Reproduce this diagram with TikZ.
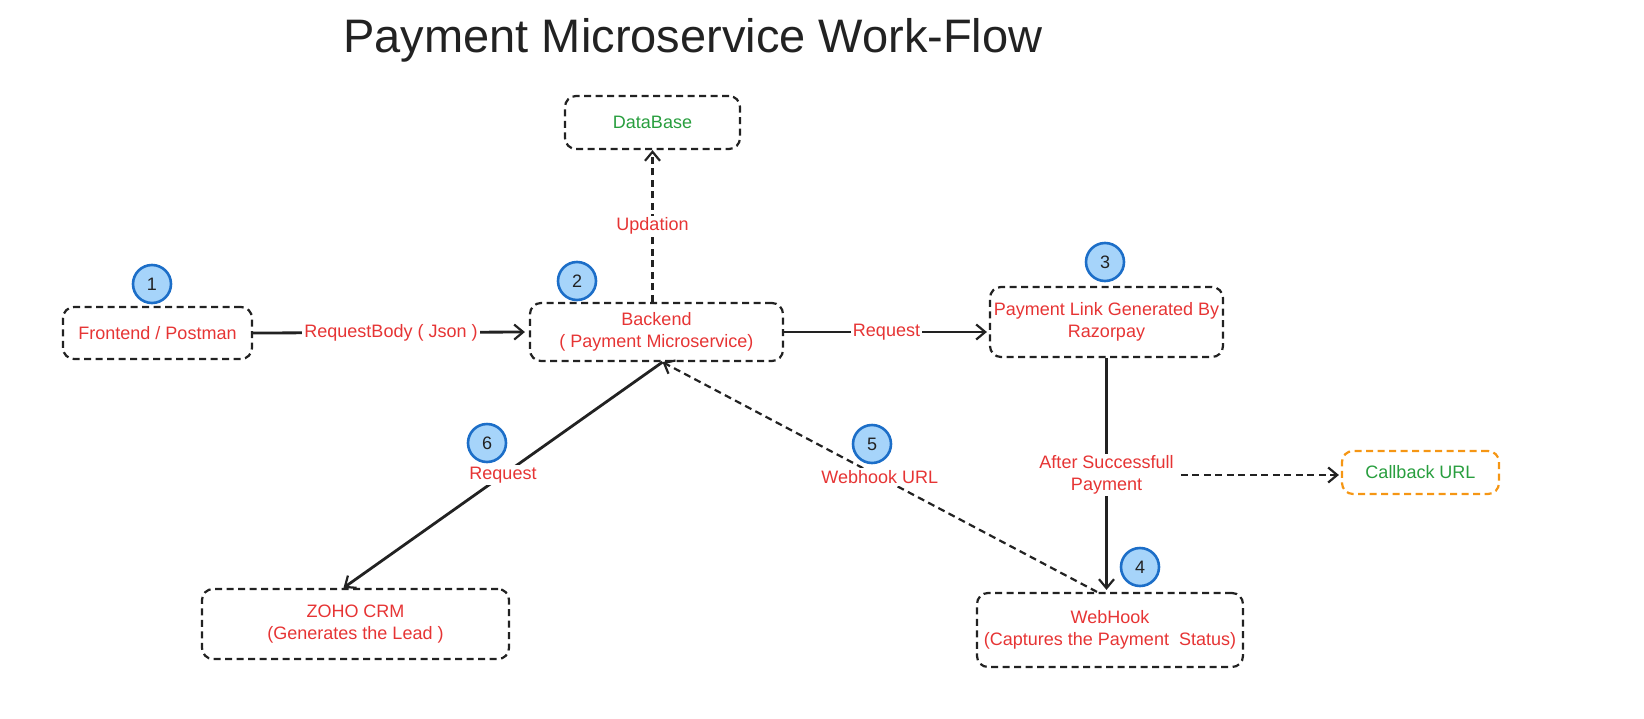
\documentclass[tikz,border=0pt]{standalone}
\usepackage{fontspec}
\setmainfont{Liberation Sans}
\usetikzlibrary{arrows.meta,calc}
\definecolor{txtred}{RGB}{230,52,52}
\definecolor{txtgreen}{RGB}{40,158,62}
\definecolor{boxorange}{RGB}{245,150,20}
\definecolor{circfill}{RGB}{166,212,250}
\definecolor{circline}{RGB}{28,110,200}
\definecolor{ink}{RGB}{34,34,34}
\tikzset{
  box/.style={draw=ink, line width=2.2pt, dash pattern=on 7pt off 4.5pt, rounded corners=11pt,
     align=center, text=txtred, font=\fontsize{18}{21.5}\selectfont, inner sep=0pt},
  numc/.style={circle, draw=circline, fill=circfill, line width=2.6pt, minimum size=38pt,
     inner sep=0pt, text=ink, font=\fontsize{18}{20}\selectfont},
  lbl/.style={fill=white, text=txtred, font=\fontsize{18}{21.5}\selectfont, align=center, inner sep=2pt},
  solidarr/.style={draw=ink, line width=2.8pt, -{Straight Barb[length=9pt,width=15pt,line width=2.2pt]}},
  dasharr/.style={draw=ink, line width=2.2pt, dash pattern=on 7pt off 4.5pt, -{Straight Barb[length=9pt,width=15pt,line width=2.2pt]}},
}
\begin{document}
\begin{tikzpicture}[x=1pt,y=-1pt]
\useasboundingbox (0,0) rectangle (1644,718);
\node[text=ink, font=\fontsize{47}{52}\selectfont] (title) at (693,40) {Payment Microservice Work-Flow};

\node[box, text=txtgreen, minimum width=175pt, minimum height=53pt] (db) at (652.5,122.5) {DataBase};
\node[box, minimum width=189pt, minimum height=52pt] (fe) at (157.5,333) {Frontend / Postman};
\node[box, minimum width=253pt, minimum height=58pt] (be) at (656.5,332) {Backend\\( Payment Microservice)};
\node[box, minimum width=233pt, minimum height=70pt] (pl) at (1106.5,322) {Payment Link Generated By\\Razorpay};
\node[box, draw=boxorange, text=txtgreen, minimum width=157pt, minimum height=43pt] (cb) at (1420.5,472.5) {Callback URL};
\node[box, minimum width=266pt, minimum height=74pt] (wh) at (1110,630) {WebHook\\(Captures the Payment\ \ Status)};
\node[box, minimum width=307pt, minimum height=70pt] (zo) at (355.5,624) {ZOHO CRM\\(Generates the Lead )};

\node[numc] (n1) at (152,284) {1};
\node[numc] (n2) at (577,281) {2};
\node[numc] (n3) at (1105,262) {3};
\node[numc] (n4) at (1140,567) {4};
\node[numc] (n5) at (872,444) {5};
\node[numc] (n6) at (487,443) {6};

\draw[solidarr, shorten >=4pt] (fe.east) -- (be.west) node[lbl, midway] {RequestBody ( Json )};
\draw[dasharr] (db.south |- be.north) -- (db.south) node[lbl, midway] {Updation};
\draw[solidarr, shorten >=2pt] (be.east) -- (pl.west |- be.east) node[lbl, midway] {Request};
\draw[solidarr, shorten >=2pt] (pl.south) -- (pl.south |- wh.north) node[lbl, midway] (ap) {After Successfull\\Payment};
\draw[dasharr, shorten <=4pt, shorten >=2pt] (ap.east) -- (cb.west |- ap.east);
\draw[solidarr] ([xshift=6pt]be.south) -- ([xshift=-12pt]zo.north) node[lbl, midway] {Request};
\draw[dasharr] ([xshift=-13pt]wh.north) -- ([xshift=6pt]be.south) node[lbl, midway] {Webhook URL};
\end{tikzpicture}
\end{document}
